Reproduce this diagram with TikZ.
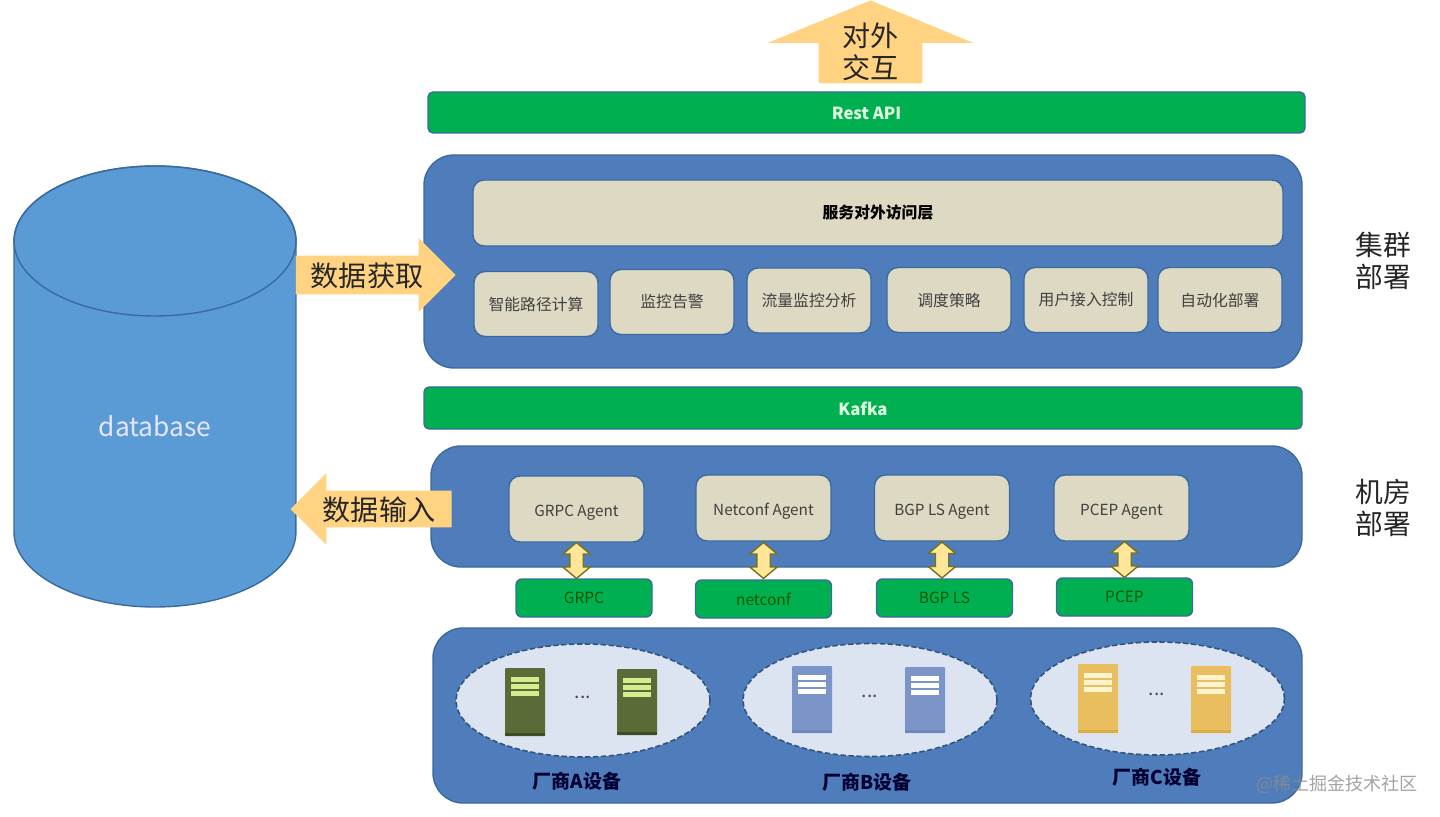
\documentclass[tikz,border=0pt]{standalone}
\usepackage{fontspec}
\setmainfont{Noto Sans CJK SC}
\usepackage{xcolor}
\usetikzlibrary{calc,shapes.arrows,shapes.geometric}
\definecolor{panelblue}{HTML}{4F7DBB}
\definecolor{edgeblue}{HTML}{3B6A9E}
\definecolor{dbblue}{HTML}{5B9BD5}
\definecolor{beige}{HTML}{DDD9C3}
\definecolor{barbreen}{HTML}{00B050}
\definecolor{blockarrow}{HTML}{FFD382}
\definecolor{dblarrow}{HTML}{FFE699}
\definecolor{cloudfill}{HTML}{DBE4F0}
\definecolor{srvAbody}{HTML}{5A6B38}
\definecolor{srvAbase}{HTML}{3F4C26}
\definecolor{srvAline}{HTML}{D5EC8C}
\definecolor{srvBbody}{HTML}{7C95C8}
\definecolor{srvBbase}{HTML}{6C86BE}
\definecolor{srvBline}{HTML}{FFFFFF}
\definecolor{srvCbody}{HTML}{E8BE5E}
\definecolor{srvCbase}{HTML}{DDAE48}
\definecolor{srvCline}{HTML}{FFF3D0}
\tikzset{
  sz/.style 2 args={minimum width=#1*0.02cm, minimum height=#2*0.02cm, inner sep=0pt},
  panel/.style={rectangle, rounded corners=0.6cm, draw=edgeblue, line width=0.8pt, fill=panelblue},
  bar/.style={rectangle, rounded corners=0.1cm, draw=edgeblue, line width=0.8pt, fill=barbreen,
              text=white!88!green, font=\fontsize{9.5}{11}\selectfont\bfseries, text height=0.3cm, text depth=0pt},
  proto/.style={rectangle, rounded corners=0.12cm, draw=edgeblue, line width=0.8pt, fill=barbreen,
                text=black!65!green, font=\fontsize{8.8}{10}\selectfont, sz={136}{38}},
  card/.style={rectangle, rounded corners=0.22cm, draw=edgeblue, line width=0.8pt, fill=beige,
               text=black!75, font=\fontsize{9}{10}\selectfont},
  bigarrow/.style={single arrow, draw=none, fill=blockarrow},
  biglab/.style={font=\fontsize{16}{19}\selectfont, text=black!85, align=center},
  sidelab/.style={font=\fontsize{15.8}{19}\selectfont, text=black!85, align=center},
  vendor/.style={font=\fontsize{10.8}{12}\selectfont\bfseries, text=black!80!blue},
  cloud/.style={ellipse, draw=edgeblue!80!black, dash pattern=on 3pt off 1.5pt, line width=0.9pt, fill=cloudfill},
  dots/.style={font=\fontsize{11}{12}\selectfont, text=black!70},
  swap/.style={double arrow, draw=olive!80!black, line width=0.8pt, fill=dblarrow,
               inner xsep=0.12cm, inner ysep=0pt,
               shape border rotate=90, minimum height=0.72cm, minimum width=0.52cm,
               double arrow head extend=0.14cm, double arrow tip angle=100}
}

\begin{document}
\begin{tikzpicture}[x=0.02cm,y=-0.02cm]
  \useasboundingbox (0,0) rectangle (1440,817);
  % database
  \draw[draw=edgeblue, line width=0.8pt, fill=dbblue] (14,241) -- (14,532)
    arc[start angle=180, end angle=360, x radius=2.82cm, y radius=1.5cm]
    -- (296,241) arc[start angle=0, end angle=180, x radius=2.82cm, y radius=1.5cm] -- cycle;
  \draw[draw=edgeblue, line width=0.8pt] (155,241) ellipse[x radius=2.82cm, y radius=1.5cm];
  \node[text=white!90!blue, font=\fontsize{15}{18}\selectfont] (db) at (155,426) {database};

  % top
  \node[bigarrow, anchor=tip, shape border rotate=90, inner xsep=51.5*0.02cm, inner ysep=0pt,
        minimum height=83*0.02cm, minimum width=205*0.02cm,
        single arrow head extend=51*0.02cm, single arrow tip angle=135] (toparrow) at (870.5,0) {};
  \node[biglab] (toplab) at (870.5,52) {对外\\[-1pt]交互};
  \node[bar, sz={877}{41}] (rest) at (866.5,112.5) {Rest API};

  % cluster panel
  \node[panel, sz={878}{213}] (cluster) at (863,261.5) {};
  \node[card, sz={810}{66}, font=\fontsize{9}{10}\selectfont\bfseries, text=black] (access) at (878,213) {服务对外访问层};
  \foreach \n/\x/\y/\t in {path/536/304/智能路径计算, alarm/672/302/监控告警, flow/809/300.5/流量监控分析,
                           sched/949/300/调度策略, user/1086/300/用户接入控制, auto/1220/300/自动化部署}
    \node[card, sz={124}{65}] (\n) at (\x,\y) {\t};
  \node[bar, sz={878}{42}] (kafka) at (863,408) {Kafka};

  % room panel
  \node[panel, sz={871}{121}] (room) at (866.5,506.5) {};
  \foreach \n/\x/\y/\t in {grpca/576.5/509/GRPC Agent, neta/763.5/508/Netconf Agent,
                           bgpa/942/508/BGP LS Agent, pcepa/1121.5/508/PCEP Agent}
    \node[card, sz={135}{66}, font=\fontsize{8.7}{10}\selectfont, text height=0.3cm, text depth=0pt] (\n) at (\x,\y) {\t};
  \foreach \n/\x/\y/\t in {grpc/584/598/GRPC, net/763.5/599/netconf, bgp/944.5/598/BGP LS, pcep/1124.5/597/PCEP}
    \node[proto] (\n) at (\x,\y) {\t};
  \foreach \a/\p/\s in {grpca/grpc/0, neta/net/0, bgpa/bgp/0, pcepa/pcep/3}
    \node[swap, xshift=\s*0.02cm] (swap\p) at ($(\a.south)!0.5!(\a.south |- \p.north)$) {};

  % data arrows
  \node[bigarrow, anchor=tip, inner sep=19*0.02cm, minimum height=160*0.02cm, minimum width=73*0.02cm,
        single arrow head extend=17.5*0.02cm] (fetch) at (456,275) {};
  \node[biglab] (fetchlab) at (367,276) {数据获取};
  \node[bigarrow, anchor=tip, shape border rotate=180, inner sep=18*0.02cm, minimum height=161*0.02cm,
        minimum width=71*0.02cm, single arrow head extend=17.5*0.02cm] (feed) at (290,509) {};
  \node[biglab] (feedlab) at (379,510) {数据输入};

  % vendor panel
  \node[panel, sz={869}{175}] (vendors) at (867.5,715.5) {};
  \foreach \n/\x/\y in {a/583/700.5, b/870/700, c/1157.5/698.5}
    \node[cloud, sz={254}{113}] (cloud\n) at (\x,\y) {};
  \foreach \x/\y/\h/\c in {505/668/68/A, 617/669/66/A, 792/666/67/B, 905/667/66/B, 1078/664/69/C, 1191/666/67/C} {
    \fill[fill=srv\c body, rounded corners=0.02cm] (\x,\y) rectangle ++(40,\h);
    \fill[fill=srv\c base] (\x,\y+\h-3) rectangle ++(40,3);
    \foreach \k in {9,16,23}
      \fill[fill=srv\c line] (\x+6,\y+\k) rectangle ++(28,5);
  }
  \foreach \n/\x/\y in {a/583/697, b/870/696, c/1157/694}
    \node[dots] (dots\n) at (\x,\y) {...};
  \foreach \n/\x/\y/\t in {a/577/781/厂商A设备, b/867/782/厂商B设备, c/1157/777/厂商C设备}
    \node[vendor] (vendor\n) at (\x,\y) {\t};

  % side labels
  \node[sidelab] (clusterlab) at (1383,261) {集群\\[-1pt]部署};
  \node[sidelab] (roomlab) at (1383,508) {机房\\[-1pt]部署};
  \node[text=black!45, opacity=0.8, font=\fontsize{10.3}{12}\selectfont] (mark) at (1337,784) {@稀土掘金技术社区};
\end{tikzpicture}
\end{document}
